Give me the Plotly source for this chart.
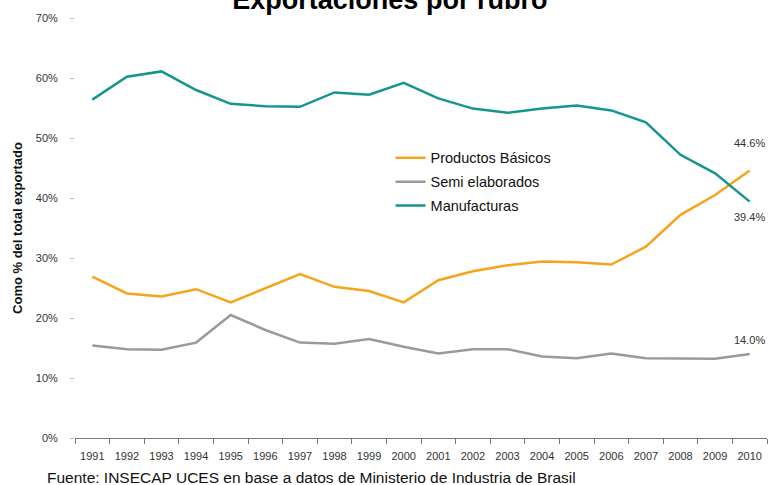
import plotly.graph_objects as go

years = [str(y) for y in range(1991, 2011)]
basicos = [26.9, 24.1, 23.6, 24.8, 22.6, 25.0, 27.3, 25.2, 24.5, 22.6,
           26.3, 27.8, 28.8, 29.4, 29.3, 28.9, 31.9, 37.2, 40.5, 44.6]
semi = [15.4, 14.8, 14.7, 15.9, 20.5, 18.0, 15.9, 15.7, 16.5, 15.2,
        14.1, 14.8, 14.8, 13.6, 13.3, 14.1, 13.3, 13.3, 13.2, 14.0]
manuf = [56.4, 60.2, 61.1, 58.0, 55.7, 55.3, 55.2, 57.6, 57.2, 59.2,
         56.6, 54.9, 54.2, 54.9, 55.4, 54.6, 52.6, 47.2, 44.1, 39.4]
series_names = ["Productos Básicos", "Semi elaborados", "Manufacturas"]
y_ticks = [0, 10, 20, 30, 40, 50, 60, 70]
y_tick_text = ["0%", "10%", "20%", "30%", "40%", "50%", "60%", "70%"]

colors = ["#F5A51C", "#9A9A9A", "#16958F"]
FONT = "Liberation Sans, Arial, sans-serif"

fig = go.Figure()
for name, vals, col in zip(series_names, [basicos, semi, manuf], colors):
    fig.add_trace(go.Scatter(x=years, y=vals, mode="lines", name=name,
                             legendgroup=name, hoverinfo="skip",
                             line=dict(color=col, width=2.5)))

last = len(years) - 1
fig.add_annotation(x=last, y=basicos[-1], text=f"{basicos[-1]:.1f}%",
                   showarrow=False, yshift=27, font=dict(size=11, color="#333"))
fig.add_annotation(x=last, y=manuf[-1], text=f"{manuf[-1]:.1f}%",
                   showarrow=False, yshift=-15, font=dict(size=11, color="#333"))
fig.add_annotation(x=last, y=semi[-1], text=f"{semi[-1]:.1f}%",
                   showarrow=False, yshift=14, font=dict(size=11, color="#333"))

# source
fig.add_annotation(xref="paper", yref="paper", x=-0.043, y=-0.095,
                   xanchor="left", yanchor="middle", showarrow=False,
                   text="Fuente: INSECAP UCES en base a datos de Ministerio de Industria de Brasil",
                   font=dict(size=15.5, color="#111"))

fig.update_layout(
    width=771, height=485,
    margin=dict(l=75, r=4, t=18, b=47, autoexpand=False),
    paper_bgcolor="white", plot_bgcolor="white",
    font=dict(family=FONT, color="#222"),
    title=dict(text="<b>Exportaciones por rubro</b>", x=0.455, xanchor="center",
               xref="paper", y=1.0, yref="container", yanchor="middle",
               font=dict(size=27, color="#000")),
    showlegend=True,
    legend=dict(x=0.456, y=0.705, xanchor="left", yanchor="top",
                bgcolor="rgba(0,0,0,0)", font=dict(size=14.5, color="#111"),
                tracegroupgap=2, itemwidth=30),
    xaxis=dict(type="category", range=[-0.5, 19.5], showgrid=False,
               automargin=False, tickangle=0,
               showline=True, linecolor="#777", linewidth=1,
               ticks="outside", ticklen=5, tickcolor="#777",
               tickson="boundaries", ticklabelstandoff=8,
               tickfont=dict(size=11, color="#333")),
    yaxis=dict(range=[0, 70], tickvals=y_ticks, ticktext=y_tick_text,
               automargin=False,
               showgrid=False, zeroline=False, showline=False,
               ticks="outside", ticklen=4, tickcolor="#bbb",
               ticklabelstandoff=10,
               tickfont=dict(size=11, color="#333"),
               title=dict(text="<b>Como % del total exportado</b>",
                          font=dict(size=13, color="#111"), standoff=10)),
)

fig.write_html("out.html", config={"displayModeBar": False},
               post_script="document.body.style.margin='0';document.body.style.overflow='hidden';")
